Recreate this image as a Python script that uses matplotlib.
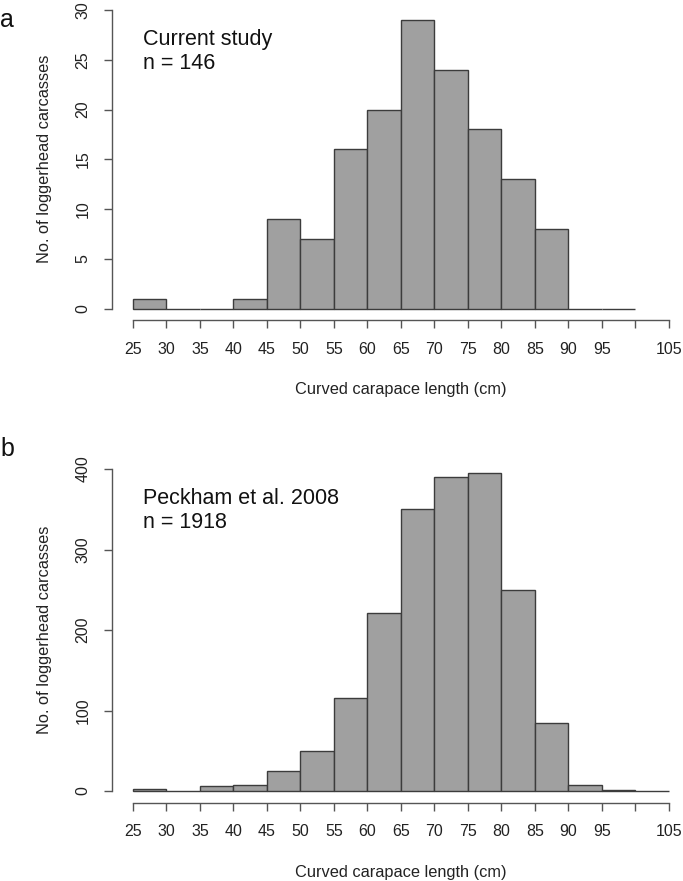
import numpy as np
import matplotlib
matplotlib.use('Agg')
import matplotlib.pyplot as plt

plt.rcParams['font.family'] = ['Liberation Sans', 'DejaVu Sans']

# bin edges (cm) and counts per 5 cm class
edges_a = [25, 30, 35, 40, 45, 50, 55, 60, 65, 70, 75, 80, 85, 90, 95, 100]
counts_a = [1, 0, 0, 1, 9, 7, 16, 20, 29, 24, 18, 13, 8, 0, 0]

edges_b = [25, 30, 35, 40, 45, 50, 55, 60, 65, 70, 75, 80, 85, 90, 95, 100, 105]
counts_b = [3, 0, 6, 7, 25, 50, 115, 221, 350, 390, 395, 250, 85, 7, 1, 0]

xticks = list(range(25, 110, 5))
xticklabels = [str(t) if t != 100 else '' for t in xticks]

W, H = 683, 881
fig = plt.figure(figsize=(W / 100, H / 100), dpi=100)

bar_col = '#a0a0a0'
edge_col = '#3c3c3c'
ax_col = '#555555'


def panel(rect, edges, counts, ymax, ystep, letter, letter_y, lines, line_y):
    ax = fig.add_axes(rect)
    ax.bar(edges[:-1], counts, width=5, align='edge', color=bar_col,
           edgecolor=edge_col, linewidth=1.0, clip_on=False)
    ax.set_xlim(21.87, 107.09)
    ax.set_ylim(0, ymax)
    for s in ['top', 'right']:
        ax.spines[s].set_visible(False)
    ax.spines['bottom'].set_position(('outward', 8.3))
    ax.spines['bottom'].set_bounds(25, 105)
    ax.spines['left'].set_bounds(0, ymax)
    for s in ['bottom', 'left']:
        ax.spines[s].set_color(ax_col)
        ax.spines[s].set_linewidth(1.0)
    ax.set_xticks(xticks)
    ax.set_xticklabels(xticklabels)
    ax.set_yticks(np.arange(0, ymax + 1, ystep))
    ax.tick_params(axis='both', length=6, width=1.0, color=ax_col,
                   labelsize=11.5, labelcolor='#222222', pad=9.5)
    for t in ax.get_yticklabels():
        t.set_rotation(90)
        t.set_va('center')
    ax.patch.set_visible(False)

    fig.text(0 / W, 1 - letter_y / H, letter, fontsize=18, va='baseline',
             ha='left', color='#111111')
    for txt, yb in zip(lines, line_y):
        fig.text(143 / W, 1 - yb / H, txt, fontsize=15.5, va='baseline',
                 ha='left', color='#111111')
    return ax


ax1 = panel([112 / W, 1 - 308.5 / H, 571 / W, 298.5 / H], edges_a, counts_a,
            30, 5, 'a', 27, ['Current study', 'n = 146'], [45, 69])
ax2 = panel([112 / W, 1 - 791 / H, 571 / W, 322 / H], edges_b, counts_b,
            400, 100, 'b', 456, ['Peckham et al. 2008', 'n = 1918'], [504, 528])

for yc, yb in [(159, 394), (630, 877)]:
    fig.text(45 / W, 1 - yc / H, 'No. of loggerhead carcasses', rotation=90,
             ha='center', va='center', fontsize=11.8, color='#222222')
    fig.text(401 / W, 1 - yb / H, 'Curved carapace length (cm)', ha='center',
             va='baseline', fontsize=11.8, color='#222222')

fig.savefig('out.png', dpi=100)
